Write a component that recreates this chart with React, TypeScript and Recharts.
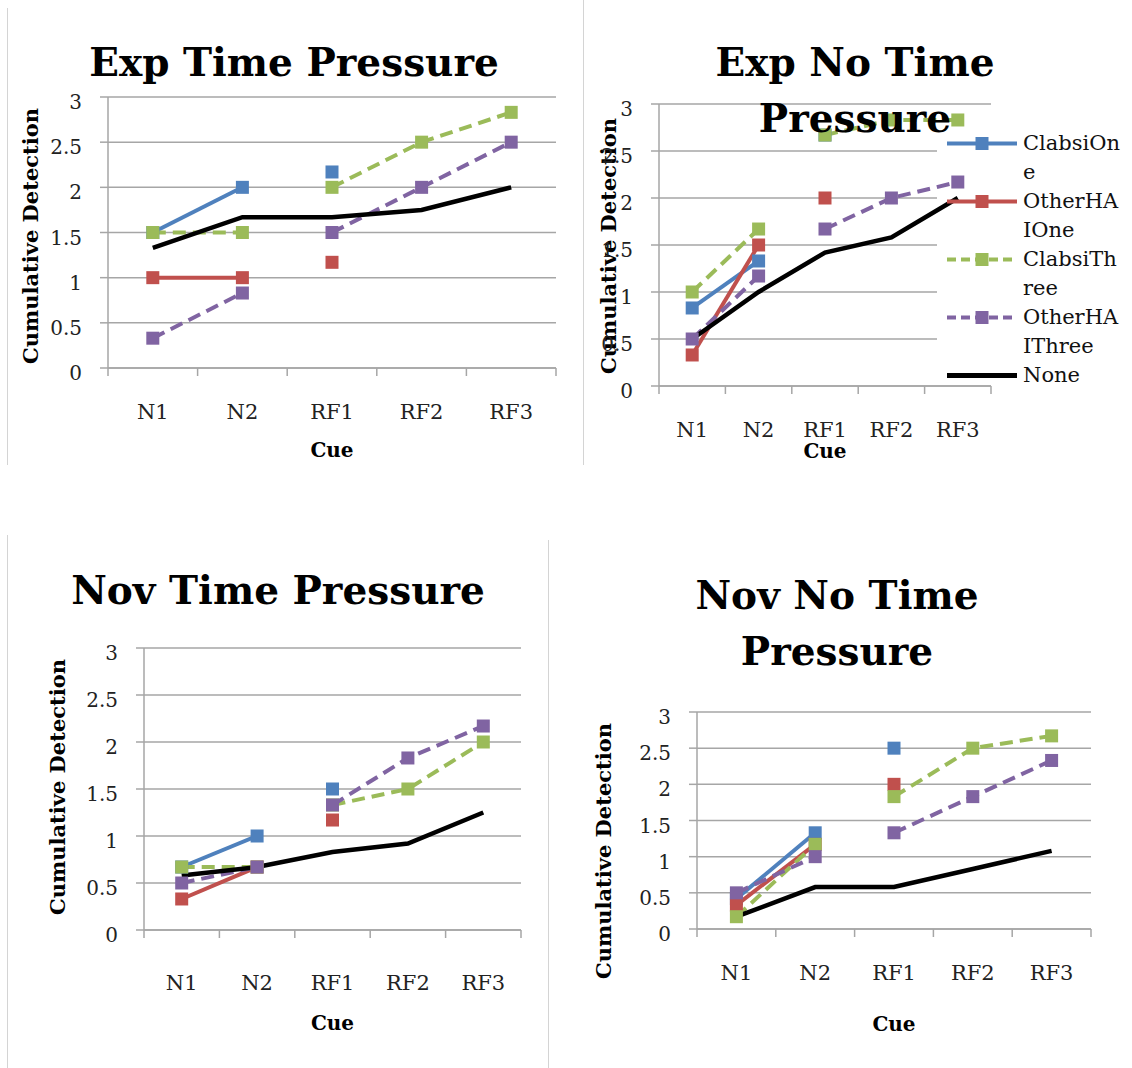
import { LineChart, Line, XAxis, YAxis, CartesianGrid } from "recharts";

type V = number | null;

const cues = ["N1", "N2", "RF1", "RF2", "RF3"];
// colored series break between the N and RF cues
const phases = ["N", "N", "RF", "RF", "RF"];
const yTicks = [0, 0.5, 1, 1.5, 2, 2.5, 3];

const seriesNames = ["ClabsiOne", "OtherHAIOne", "ClabsiThree", "OtherHAIThree", "None"];
const seriesColors = ["#4F81BD", "#C0504D", "#9BBB59", "#8064A2", "#000000"];
const seriesDashed = [false, false, true, true, false];
const seriesSplit = [true, true, true, true, false];

// Exp Time Pressure
const expTpClabsiOne: V[] = [1.5, 2.0, 2.17, null, null];
const expTpOtherOne: V[] = [1.0, 1.0, 1.17, null, null];
const expTpClabsiThree: V[] = [1.5, 1.5, 2.0, 2.5, 2.83];
const expTpOtherThree: V[] = [0.33, 0.83, 1.5, 2.0, 2.5];
const expTpNone: V[] = [1.33, 1.67, 1.67, 1.75, 2.0];

// Exp No Time Pressure
const expNtpClabsiOne: V[] = [0.83, 1.33, 2.67, null, null];
const expNtpOtherOne: V[] = [0.33, 1.5, 2.0, null, null];
const expNtpClabsiThree: V[] = [1.0, 1.67, 2.67, 2.83, 2.83];
const expNtpOtherThree: V[] = [0.5, 1.17, 1.67, 2.0, 2.17];
const expNtpNone: V[] = [0.5, 1.0, 1.42, 1.58, 2.0];

// Nov Time Pressure
const novTpClabsiOne: V[] = [0.67, 1.0, 1.5, null, null];
const novTpOtherOne: V[] = [0.33, 0.67, 1.17, null, null];
const novTpClabsiThree: V[] = [0.67, 0.67, 1.33, 1.5, 2.0];
const novTpOtherThree: V[] = [0.5, 0.67, 1.33, 1.83, 2.17];
const novTpNone: V[] = [0.58, 0.67, 0.83, 0.92, 1.25];

// Nov No Time Pressure
const novNtpClabsiOne: V[] = [0.42, 1.33, 2.5, null, null];
const novNtpOtherOne: V[] = [0.33, 1.17, 2.0, null, null];
const novNtpClabsiThree: V[] = [0.17, 1.17, 1.83, 2.5, 2.67];
const novNtpOtherThree: V[] = [0.5, 1.0, 1.33, 1.83, 2.33];
const novNtpNone: V[] = [0.17, 0.58, 0.58, 0.83, 1.08];

const GRID = "#a6a6a6";
const SERIF = "'DejaVu Serif', serif";

const buildRows = (values: V[][]) =>
  cues.map((cue, i) => {
    const row: Record<string, any> = { cue };
    values.forEach((vals, s) => {
      if (seriesSplit[s]) {
        row[`s${s}N`] = phases[i] === "N" ? vals[i] : null;
        row[`s${s}RF`] = phases[i] === "RF" ? vals[i] : null;
      } else {
        row[`s${s}`] = vals[i];
      }
    });
    return row;
  });

const squareDot = (color: string) => (props: any) => {
  const { cx, cy, index, value } = props;
  if (cx == null || cy == null || value == null) return <g key={`d${index}`} />;
  return <rect key={`d${index}`} x={cx - 6.5} y={cy - 6.5} width={13} height={13} fill={color} />;
};

const panels = [
  {
    left: 0, top: 0, width: 583, height: 470,
    plot: { left: 108, top: 97, right: 556, bottom: 368 },
    title: ["Exp Time Pressure"], titleX: 294, titleY: 62,
    yLabelX: 38, yLabelY: 236, cueY: 450, tickOffset: 44,
    values: [expTpClabsiOne, expTpOtherOne, expTpClabsiThree, expTpOtherThree, expTpNone],
  },
  {
    left: 583, top: 0, width: 549, height: 470,
    plot: { left: 76, top: 104, right: 408, bottom: 386 },
    title: ["Exp No Time", "Pressure"], titleX: 272, titleY: 62,
    yLabelX: 33, yLabelY: 246, cueY: 451, tickOffset: 44,
    legend: { x: 364, top: 128.5 },
    gridCut: { x: 354, from: 120, to: 380 },
    values: [expNtpClabsiOne, expNtpOtherOne, expNtpClabsiThree, expNtpOtherThree, expNtpNone],
  },
  {
    left: 0, top: 530, width: 548, height: 538,
    plot: { left: 144, top: 118, right: 521, bottom: 400 },
    title: ["Nov Time Pressure"], titleX: 278, titleY: 60,
    yLabelX: 65, yLabelY: 257, cueY: 493, tickOffset: 53,
    values: [novTpClabsiOne, novTpOtherOne, novTpClabsiThree, novTpOtherThree, novTpNone],
  },
  {
    left: 548, top: 530, width: 584, height: 538,
    plot: { left: 149, top: 182, right: 543, bottom: 399 },
    title: ["Nov No Time", "Pressure"], titleX: 289, titleY: 65,
    yLabelX: 63, yLabelY: 321, cueY: 494, tickOffset: 44,
    values: [novNtpClabsiOne, novNtpOtherOne, novNtpClabsiThree, novNtpOtherThree, novNtpNone],
  },
];

function LegendBox({ x, top }: { x: number; top: number }) {
  return (
    <div style={{ position: "absolute", left: x, top, fontFamily: SERIF, fontSize: 21, color: "#111" }}>
      {seriesNames.map((name, s) => (
        <div key={name} style={{ display: "flex", alignItems: "flex-start" }}>
          <svg width={76} height={29} style={{ flex: "none" }}>
            <line
              x1={0} x2={70} y1={14.5} y2={14.5}
              stroke={seriesColors[s]}
              strokeWidth={s === 4 ? 5 : 4}
              strokeDasharray={seriesDashed[s] ? "9 5" : undefined}
            />
            {s !== 4 && <rect x={28.5} y={8} width={13} height={13} fill={seriesColors[s]} />}
          </svg>
          <div style={{ width: 101, lineHeight: "29px", wordBreak: "break-all", minHeight: 58 }}>{name}</div>
        </div>
      ))}
    </div>
  );
}

function Panel({ cfg }: { cfg: any }) {
  const { plot, width, height } = cfg;
  const band = (plot.right - plot.left) / cues.length;
  const data = buildRows(cfg.values);

  const gridLine = (p: any) => {
    const cut = cfg.gridCut && p.y1 > cfg.gridCut.from && p.y1 < cfg.gridCut.to;
    return (
      <line key={p.key ?? `g${p.index}`} x1={p.x1} y1={p.y1} x2={cut ? cfg.gridCut.x : p.x2} y2={p.y2} stroke={GRID} strokeWidth={1.5} />
    );
  };

  const xTick = (p: any) => {
    const { x, y, payload, index } = p;
    return (
      <g key={`x${index}`}>
        <line x1={x - band / 2} x2={x - band / 2} y1={y} y2={y + 8} stroke={GRID} strokeWidth={1.5} />
        {index === cues.length - 1 && (
          <line x1={x + band / 2} x2={x + band / 2} y1={y} y2={y + 8} stroke={GRID} strokeWidth={1.5} />
        )}
        <text x={x} y={y + cfg.tickOffset} textAnchor="middle" dominantBaseline="central" fontFamily={SERIF} fontSize={21} fill="#222">
          {payload.value}
        </text>
      </g>
    );
  };

  const yTick = (p: any) => (
    <text key={`y${p.index}`} x={p.x} y={p.y + 5} textAnchor="end" dominantBaseline="central" fontFamily={SERIF} fontSize={20} fill="#222">
      {p.payload.value}
    </text>
  );

  const lines = seriesNames.flatMap((name, s) => {
    const common = {
      type: "linear" as const,
      stroke: seriesColors[s],
      strokeWidth: s === 4 ? 4.5 : 4,
      strokeDasharray: seriesDashed[s] ? "13 7" : undefined,
      dot: s === 4 ? false : squareDot(seriesColors[s]),
      activeDot: false,
      connectNulls: false,
      isAnimationActive: false,
      name,
    };
    if (!seriesSplit[s]) return [<Line key={name} dataKey={`s${s}`} {...common} />];
    return [
      <Line key={`${name}N`} dataKey={`s${s}N`} {...common} />,
      <Line key={`${name}RF`} dataKey={`s${s}RF`} legendType="none" {...common} />,
    ];
  });

  return (
    <div style={{ position: "absolute", left: cfg.left, top: cfg.top, width, height }}>
      <LineChart
        width={width}
        height={height}
        data={data}
        margin={{ top: plot.top, right: width - plot.right, bottom: 0, left: 0 }}
      >
        <CartesianGrid vertical={false} horizontal={gridLine} />
        <XAxis
          dataKey="cue"
          interval={0}
          padding={{ left: band / 2, right: band / 2 }}
          height={height - plot.bottom}
          tickSize={0}
          tickMargin={0}
          tickLine={false}
          axisLine={{ stroke: GRID, strokeWidth: 1.5 }}
          tick={xTick}
          label={{
            content: () => (
              <text x={(plot.left + plot.right) / 2} y={cfg.cueY} textAnchor="middle" dominantBaseline="central" fontFamily={SERIF} fontWeight="bold" fontSize={20} fill="#000">
                Cue
              </text>
            ),
          }}
        />
        <YAxis
          domain={[0, 3]}
          ticks={yTicks}
          width={plot.left}
          tickSize={8}
          tickMargin={18}
          axisLine={{ stroke: GRID, strokeWidth: 1.5 }}
          tickLine={{ stroke: GRID, strokeWidth: 1.5 }}
          tick={yTick}
          label={{
            content: () => (
              <text
                x={cfg.yLabelX}
                y={cfg.yLabelY}
                transform={`rotate(-90 ${cfg.yLabelX} ${cfg.yLabelY})`}
                textAnchor="middle"
                fontFamily={SERIF}
                fontWeight="bold"
                fontSize={21}
                fill="#000"
              >
                Cumulative Detection
              </text>
            ),
          }}
        />
        {lines}
      </LineChart>
      {cfg.title.map((t: string, i: number) => (
        <div
          key={t}
          style={{
            position: "absolute",
            left: cfg.titleX - 300,
            width: 600,
            top: cfg.titleY - 28 + i * 56,
            lineHeight: "56px",
            textAlign: "center",
            fontFamily: SERIF,
            fontWeight: "bold",
            fontSize: 39,
            color: "#000",
            whiteSpace: "nowrap",
          }}
        >
          {t}
        </div>
      ))}
      {cfg.legend && <LegendBox x={cfg.legend.x} top={cfg.legend.top} />}
    </div>
  );
}

const frameLines = [
  { x: 7, y1: 8, y2: 465 },
  { x: 583, y1: 0, y2: 465 },
  { x: 7, y1: 535, y2: 1068 },
  { x: 548, y1: 540, y2: 1068 },
];

export default function App() {
  return (
    <div style={{ position: "absolute", left: 0, top: 0, width: 1132, height: 1068, background: "#fff", overflow: "hidden" }}>
      {frameLines.map((f, i) => (
        <div key={i} style={{ position: "absolute", left: f.x, top: f.y1, width: 1, height: f.y2 - f.y1, background: "#d4d4d4" }} />
      ))}
      {panels.map((p, i) => (
        <Panel key={i} cfg={p} />
      ))}
    </div>
  );
}
